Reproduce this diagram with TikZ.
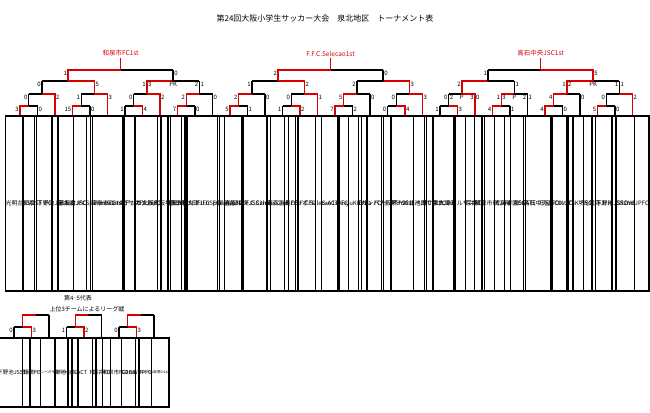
\documentclass[tikz,border=0pt]{standalone}
\usepackage{fontspec}
\setmainfont{Noto Sans CJK JP}
\usetikzlibrary{positioning}
\usetikzlibrary{calc}

% stack the characters of a name one under the other
\def\vstack#1{\vst#1\relax\relax}
\def\vst#1#2{#1\ifx\relax#2\else\\\expandafter\vst\expandafter#2\fi}

% one match: name, left child, right child, bar y, winner (L or R)
\newcommand\game[5]{%
  \path let \p1=(#2), \p2=(#3) in
    coordinate (#1) at ({(\x1+\x2)/2},{-(#4)*1pt})
    coordinate (#1L) at (\x1,{-(#4)*1pt})
    coordinate (#1R) at (\x2,{-(#4)*1pt});
  \draw[black line] (#1L) -- (#1R);
  \if#5L
    \draw[black line] (#3) -- (#1R);
    \draw[red line] (#2) -- (#1L) -- (#1);
  \else
    \draw[black line] (#2) -- (#1L);
    \draw[red line] (#3) -- (#1R) -- (#1);
  \fi}
\newcommand\score[3]{%
  \node[score,anchor=north east] at ($(#1L)+(-1,1)$) {#2};
  \node[score,anchor=north west] at ($(#1R)+(1,1)$) {#3};}
\newcommand\pkscore[6]{%
  \score{#1}{#2}{#5}
  \node[score,anchor=north west] at ($(#1L)+(1,1)$) {#3};
  \node[score,anchor=north east] at ($(#1R)+(-1,1)$) {#4};
  \node[score,anchor=north] at ($(#1)+(0,1)$) {#6};}

\begin{document}
\begin{tikzpicture}[x=1pt,y=-1pt,
    black line/.style={line width=1.3pt,black},
    red line/.style={line width=1.3pt,red!85!black},
    team box/.style={draw,line width=1.3pt,minimum width=12pt,minimum height=175pt,
                     inner sep=0pt,align=center,font=\fontsize{6}{7.3}\selectfont},
    league box/.style={draw,line width=1.3pt,minimum width=10pt,minimum height=69pt,
                     inner sep=0pt,align=center,font=\fontsize{5.5}{7}\selectfont},
    tiny names/.style={font=\fontsize{3.6}{4.5}\selectfont},
    score/.style={inner sep=0pt,font=\fontsize{6}{6}\selectfont},
    block title/.style={inner sep=1pt,anchor=south,font=\fontsize{6.5}{7}\selectfont}]
  \useasboundingbox (0,0) rectangle (650,412);

  \node (title) at (325,18) {\fontsize{8}{9}\selectfont 第24回大阪小学生サッカー大会　泉北地区　トーナメント表};

  % teams
  \foreach \n/\name in {1/光明台JSC,2/和泉ST~~FC,3/下野池JSS1st,4/赤坂台JSC,
      5/泉大津JFCSperanza2nd,6/和泉市FC1st,7/アーバンペガサスFC2nd,8/デッカ大阪FC,
      9/ガンバ大阪堺Jr1st,10/野田FC,11/泉大津SEIFUJr~~FC,12/泉大津JFCSperanza1st,
      13/御池台FC,14/高石中央JSC2nd,15/F.F.C.Selecao2nd,16/東百舌鳥FC,17/トロッポFC,
      18/F.F.C.Selecao1st,19/S-ACT~~FC,20/AisyuKID's,21/Erba~~FC,22/ガンバ大阪堺Jr2nd,
      23/イデアSC北池田,24/アーバンペガサスFC1st,25/FCスエルテ,26/泉大津アルザスSC,
      27/深井FC,28/和泉市FC2nd,29/青英学園SC,30/FC~~REGATE~~三宝,31/高石中央JSC1st,
      32/FOX~~SC,33/TSK堺SC,34/光竜寺Jr.K,35/下野池JSS2nd,36/GROWUPFC}
    \node[team box] (t\n) at ({20+17.5*(\n-1)},203.5) {\vstack{\name}};

  % block 1
  \game{A1p}{t1.north}{t2.north}{106}{L} \score{A1p}{3}{0}
  \game{A1}{A1p}{t3.north}{94}{R} \score{A1}{0}{2}
  \game{B1p}{t4.north}{t5.north}{106}{L} \score{B1p}{15}{0}
  \game{B1}{B1p}{t6.north}{94}{R} \score{B1}{1}{3}
  \game{S1a}{A1}{B1}{81}{R} \score{S1a}{0}{5}
  \game{C1p}{t7.north}{t8.north}{106}{R} \score{C1p}{1}{4}
  \game{C1}{C1p}{t9.north}{94}{R} \score{C1}{0}{2}
  \game{D1p}{t10.north}{t11.north}{106}{L} \score{D1p}{7}{0}
  \game{D1}{D1p}{t12.north}{94}{L} \score{D1}{2}{0}
  \game{S1b}{C1}{D1}{81}{L} \pkscore{S1b}{1}{3}{2}{1}{PK}
  \game{F1}{S1a}{S1b}{70}{L} \score{F1}{1}{0}
  \draw[red line] (F1) -- ++(0,-12) node[block title] (h1) {和泉市FC1st};

  % block 2
  \game{A2p}{t13.north}{t14.north}{106}{L} \score{A2p}{5}{1}
  \game{A2}{A2p}{t15.north}{94}{L} \score{A2}{2}{0}
  \game{B2p}{t16.north}{t17.north}{106}{R} \score{B2p}{1}{2}
  \game{B2}{B2p}{t18.north}{94}{R} \score{B2}{0}{1}
  \game{S2a}{A2}{B2}{81}{R} \score{S2a}{1}{2}
  \game{C2p}{t19.north}{t20.north}{106}{L} \score{C2p}{7}{2}
  \game{C2}{C2p}{t21.north}{94}{L} \score{C2}{5}{0}
  \game{D2p}{t22.north}{t23.north}{106}{R} \score{D2p}{0}{4}
  \game{D2}{D2p}{t24.north}{94}{R} \score{D2}{0}{3}
  \game{S2b}{C2}{D2}{81}{R} \score{S2b}{2}{3}
  \game{F2}{S2a}{S2b}{70}{L} \score{F2}{2}{0}
  \draw[red line] (F2) -- ++(0,-12) node[block title] (h2) {F.F.C.Selecao1st};

  % block 3
  \game{A3p}{t25.north}{t26.north}{106}{R} \score{A3p}{1}{3}
  \game{A3}{A3p}{t27.north}{94}{R} \pkscore{A3}{0}{2}{3}{0}{P}
  \game{B3p}{t28.north}{t29.north}{106}{L} \score{B3p}{4}{1}
  \game{B3}{B3p}{t30.north}{94}{L} \pkscore{B3}{1}{3}{2}{1}{P}
  \game{S3a}{A3}{B3}{81}{L} \score{S3a}{2}{1}
  \game{C3p}{t31.north}{t32.north}{106}{L} \score{C3p}{4}{0}
  \game{C3}{C3p}{t33.north}{94}{L} \score{C3}{4}{0}
  \game{D3p}{t34.north}{t35.north}{106}{L} \score{D3p}{5}{0}
  \game{D3}{D3p}{t36.north}{94}{R} \score{D3}{0}{2}
  \game{S3b}{C3}{D3}{81}{L} \pkscore{S3b}{1}{2}{1}{1}{PK}
  \game{F3}{S3a}{S3b}{70}{R} \score{F3}{1}{5}
  \draw[red line] (F3) -- ++(0,-12) node[block title] (h3) {高石中央JSC1st};

  % 4th/5th place league
  \node[score] (sub1) at (78,298) {第4･5代表};
  \node[score] (sub2) at (87,309) {上位3チームによるリーグ戦};
  \foreach \n/\name/\sty in {1/下野池JSS1st/league box,2/野田FC/league box,
      3/アーバンペガサスFC1st/tiny names,4/御池台FC/league box,5/S-ACT~~FC/league box,
      6/深井FC/league box,7/和泉市FC2nd/league box,8/GROWUPFC/league box,
      9/ガンバ大阪堺Jr1st/tiny names}
    \node[league box,\sty] (l\n) at ({14+17.5*(\n-1)},372.5) {\vstack{\name}};
  \game{G1p}{l1.north}{l2.north}{327}{R} \score{G1p}{0}{3}
  \game{G1}{G1p}{l3.north}{315}{L}
  \game{G2p}{l4.north}{l5.north}{327}{R} \score{G2p}{1}{2}
  \game{G2}{G2p}{l6.north}{315}{L}
  \game{G3p}{l7.north}{l8.north}{327}{R} \score{G3p}{0}{3}
  \game{G3}{G3p}{l9.north}{315}{L}
\end{tikzpicture}
\end{document}
